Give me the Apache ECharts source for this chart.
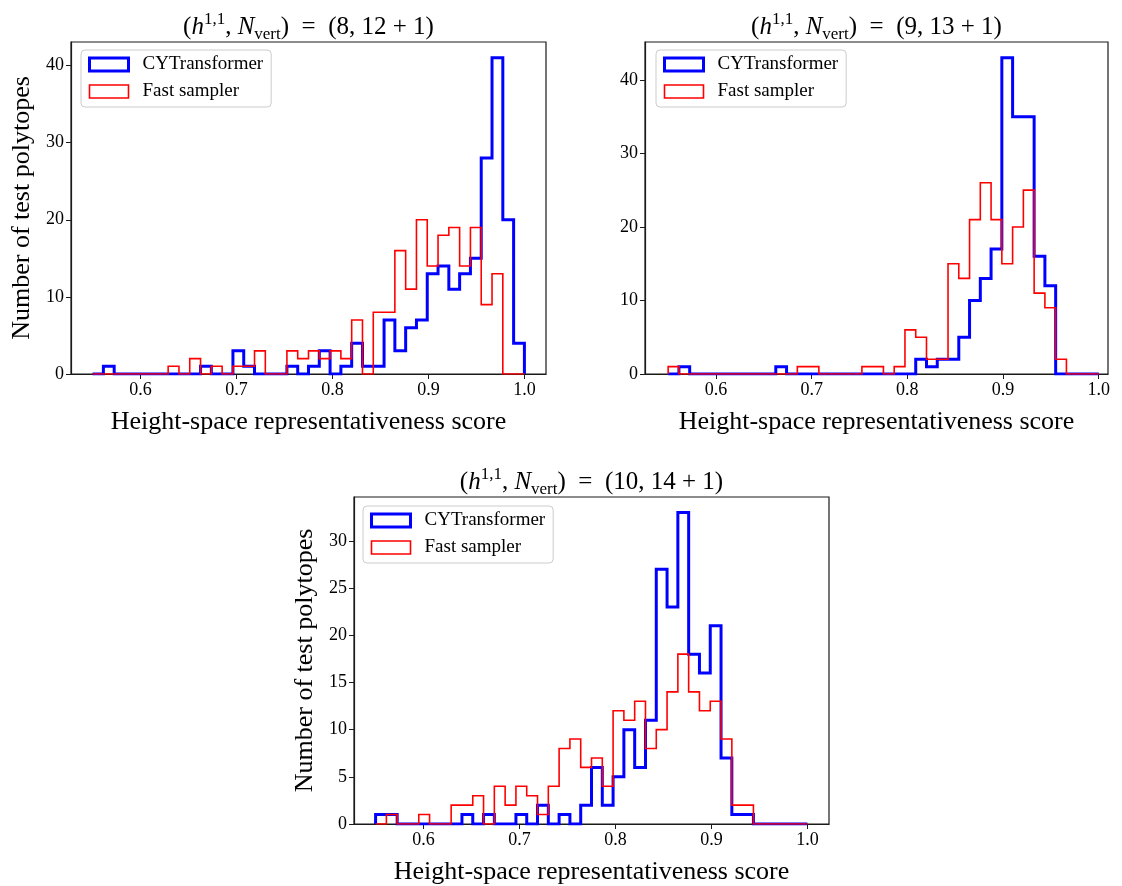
<!DOCTYPE html>
<html>
<head>
<meta charset="utf-8">
<script src="https://cdn.jsdelivr.net/npm/echarts@6/dist/echarts.min.js"></script>
<style>
  html, body { margin: 0; padding: 0; background: #fff; }
  #chart { width: 1122px; height: 886px; }
</style>
</head>
<body>
<div id="chart"></div>
<script>
// Histogram binning shared by every panel: 40 equal bins over [0.55, 1.0]
const binLo = 0.55;
const binHi = 1.0;

const seriesNames = ['CYTransformer', 'Fast sampler'];
const xTicks = [0.6, 0.7, 0.8, 0.9, 1.0];
const yTicksA = [0, 10, 20, 30, 40];
const yTicksC = [0, 5, 10, 15, 20, 25, 30];

// (h11, Nvert) = (8, 12+1)
const cyt8  = [0,1,0,0,0,0,0,0,0,0, 1,0,0,3,1,0,0,0,1,0, 1,3,0,1,4,1,1,7,3,6, 7,13,14,11,13,15,28,41,20,4];
const fast8 = [0,0,0,0,0,0,0,1,0,2, 0,1,0,1,1,3,0,0,3,2, 3,2,3,2,7,0,8,8,16,11, 20,14,18,19,14,19,9,13,0,0];

// (h11, Nvert) = (9, 13+1)
const cyt9  = [0,1,0,0,0,0,0,0,0,0, 1,0,0,0,0,0,0,0,0,0, 0,0,0,2,1,2,2,5,10,13, 17,43,35,35,16,12,0,0,0,0];
const fast9 = [1,0,0,0,0,0,0,0,0,0, 0,0,1,1,0,0,0,0,1,1, 0,1,6,5,2,2,15,13,21,26, 21,15,20,25,11,9,2,0,0,0];

// (h11, Nvert) = (10, 14+1)
const cyt10  = [1,1,0,0,0,0,0,0,1,0, 1,0,0,1,0,2,0,1,0,2, 6,2,5,10,6,11,27,23,33,18, 16,21,7,1,1,0,0,0,0,0];
const fast10 = [0,1,0,0,1,0,0,2,2,3, 0,4,2,4,3,1,4,8,9,6, 7,4,12,11,13,8,10,14,18,14, 12,13,9,2,2,0,0,0,0,0];

const panels = [
  { h: '8',  n: '12', cyt: cyt8,  fast: fast8,  yTicks: yTicksA, xMin: 0.5275, xMax: 1.0225, yMax: 43.05,
    grid: { left: 71, top: 42, width: 475, height: 332 }, legend: { left: 81, top: 50 }, yName: true },
  { h: '9',  n: '13', cyt: cyt9,  fast: fast9,  yTicks: yTicksA, xMin: 0.5258, xMax: 1.0097, yMax: 45.15,
    grid: { left: 645, top: 42, width: 463, height: 332 }, legend: { left: 656, top: 50 }, yName: false },
  { h: '10', n: '14', cyt: cyt10, fast: fast10, yTicks: yTicksC, xMin: 0.5275, xMax: 1.0225, yMax: 34.65,
    grid: { left: 354, top: 497, width: 475, height: 333 }, legend: { left: 363, top: 506 }, yName: true }
];

const FONT = 'Liberation Serif';
const colors = ['#0000ff', '#ff0000'];
const widths = [3, 1.6];
const frame = '#1a1a1a';

// Outline of a step histogram: up the first edge, across each bin, down the last edge
function stepOutline(counts) {
  const w = (binHi - binLo) / counts.length;
  const pts = [[binLo, 0]];
  counts.forEach((c, i) => {
    const x0 = binLo + i * w;
    pts.push([x0, c], [x0 + w, c]);
  });
  pts.push([binHi, 0]);
  return pts;
}

const option = {
  animation: false,
  backgroundColor: '#fff',
  title: [], grid: [], xAxis: [], yAxis: [], legend: [], series: []
};

panels.forEach((p, k) => {
  option.grid.push(Object.assign({ show: true, borderColor: frame, borderWidth: 1.2, backgroundColor: 'transparent' }, p.grid));

  const tok = (extra) => Object.assign({ fontFamily: FONT, fontSize: 25, fontWeight: 'normal', color: '#000', lineHeight: 32 }, extra);
  option.title.push({
    left: p.grid.left + p.grid.width / 2,
    top: p.grid.top - 31,
    textAlign: 'center',
    padding: 0,
    text: '{t|(}{i|h}{s|1,1}{t|, }{i|N}{b|vert}{t|)  =  (' + p.h + ', ' + p.n + ' + 1)}',
    textStyle: {
      fontWeight: 'normal',
      rich: {
        t: tok({}),
        i: tok({ fontStyle: 'italic' }),
        s: tok({ fontSize: 17, lineHeight: 17, verticalAlign: 'top' }),
        b: tok({ fontSize: 17, lineHeight: 17, verticalAlign: 'bottom' })
      }
    }
  });

  option.xAxis.push({
    type: 'value', gridIndex: k, min: p.xMin, max: p.xMax,
    name: 'Height-space representativeness score',
    nameLocation: 'middle', nameGap: 35,
    nameTextStyle: { fontFamily: FONT, fontSize: 26, color: '#000' },
    axisLine: { show: true, onZero: false, lineStyle: { color: frame, width: 1.2 } },
    axisTick: { show: true, length: 5, customValues: xTicks, lineStyle: { color: frame, width: 1 } },
    axisLabel: { customValues: xTicks, formatter: v => v.toFixed(1), fontFamily: FONT, fontSize: 18, color: '#000', margin: 7 },
    splitLine: { show: false }
  });

  option.yAxis.push({
    type: 'value', gridIndex: k, min: 0, max: p.yMax,
    name: p.yName ? 'Number of test polytopes' : '',
    nameLocation: 'middle', nameGap: 36,
    nameTextStyle: { fontFamily: FONT, fontSize: 26, color: '#000' },
    axisLine: { show: true, onZero: false, lineStyle: { color: frame, width: 1.2 } },
    axisTick: { show: true, length: 5, customValues: p.yTicks, lineStyle: { color: frame, width: 1 } },
    axisLabel: { customValues: p.yTicks, fontFamily: FONT, fontSize: 18, color: '#000', margin: 7 },
    splitLine: { show: false }
  });

  option.legend.push({
    orient: 'vertical', left: p.legend.left, top: p.legend.top,
    selectedMode: false,
    data: seriesNames.map((name, i) => ({
      name, icon: 'rect',
      itemStyle: { color: 'rgba(0,0,0,0)', borderColor: colors[i], borderWidth: widths[i] }
    })),
    itemWidth: 39, itemHeight: 13, itemGap: 8,
    padding: [5, 8, 6, 7],
    backgroundColor: 'rgba(255,255,255,0.8)', borderColor: '#cccccc', borderWidth: 1, borderRadius: 4,
    textStyle: { fontFamily: FONT, fontSize: 19, color: '#000', padding: [0, 0, 0, 9], lineHeight: 14 }
  });

  [p.cyt, p.fast].forEach((counts, i) => {
    option.series.push({
      type: 'line', name: seriesNames[i], xAxisIndex: k, yAxisIndex: k,
      data: stepOutline(counts),
      showSymbol: false, symbol: 'none', z: 2 + i,
      lineStyle: { color: colors[i], width: widths[i], join: 'miter' },
      itemStyle: { color: colors[i] },
      emphasis: { disabled: true }
    });
  });
});

const chart = echarts.init(document.getElementById('chart'), null, { renderer: 'canvas' });
chart.setOption(option);
</script>
</body>
</html>
